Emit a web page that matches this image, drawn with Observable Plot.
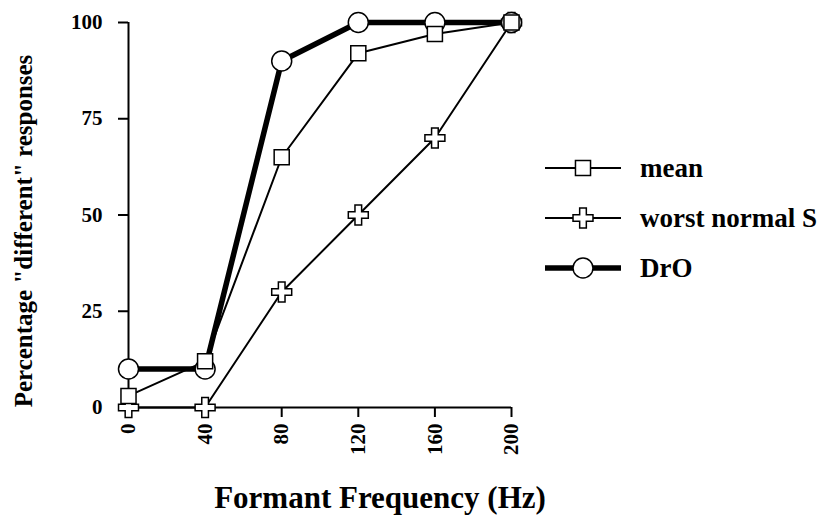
<!DOCTYPE html>
<html>
<head>
<meta charset="utf-8">
<script src="https://cdn.jsdelivr.net/npm/d3@7"></script>
<script src="https://cdn.jsdelivr.net/npm/@observablehq/plot@0.6"></script>
<style>
  html, body { margin: 0; padding: 0; background: #fff; }
  #wrap { position: relative; width: 821px; height: 515px; font-family: "Liberation Serif", "Times New Roman", serif; font-weight: bold; color: #000; }
  #legend { position: absolute; left: 545px; top: 143px; }
  .row { display: flex; align-items: center; height: 50px; }
  .row span { font-size: 27px; margin-left: 19px; line-height: 1; }
</style>
</head>
<body>
<div id="wrap"><div id="chart"></div><div id="legend"></div></div>
<script>
const freqs = [0, 40, 80, 120, 160, 200];
const meanVals = [3, 12, 65, 92, 97, 100];
const worstVals = [0, 0, 30, 50, 70, 100];
const droVals = [10, 10, 90, 100, 100, 100];
const seriesNames = ["mean", "worst normal S", "DrO"];
const xTicks = [0, 40, 80, 120, 160, 200];
const yTicks = [0, 25, 50, 75, 100];

const toRows = (vals) => freqs.map((f, i) => ({f, v: vals[i]}));
const mean = toRows(meanVals), worst = toRows(worstVals), dro = toRows(droVals);

const style = {
  dro: {symbol: "circle", r: 10, sw: 5.5},
  mean: {symbol: "square", r: 8.5, sw: 2},
  worst: {symbol: "cross", r: 8.4, sw: 2}
};

const font = "Liberation Serif, Times New Roman, serif";

const plot = Plot.plot({
  width: 821,
  height: 515,
  marginTop: 22,
  marginBottom: 108,
  marginLeft: 128,
  marginRight: 310,
  style: {fontFamily: font, fontWeight: "bold", fontSize: "21px", color: "#000", background: "#fff", overflow: "visible"},
  x: {domain: [0, 200]},
  y: {domain: [0, 100]},
  marks: [
    Plot.axisY({ticks: yTicks, tickSize: 10, tickPadding: 16, label: null, fontSize: 21, strokeWidth: 2}),
    Plot.axisX({ticks: xTicks, tickSize: 10, tickPadding: 6, tickRotate: -90, label: null, fontSize: 21, strokeWidth: 2}),
    Plot.ruleX([0], {y1: 0, y2: 100, strokeWidth: 2}),
    Plot.ruleY([0], {x1: 0, x2: 200, strokeWidth: 2}),
    Plot.line(dro, {x: "f", y: "v", stroke: "#000", strokeWidth: style.dro.sw}),
    Plot.line(mean, {x: "f", y: "v", stroke: "#000", strokeWidth: style.mean.sw}),
    Plot.line(worst, {x: "f", y: "v", stroke: "#000", strokeWidth: style.worst.sw}),
    Plot.dot(worst, {x: "f", y: "v", symbol: style.worst.symbol, r: style.worst.r, fill: "#fff", stroke: "#000", strokeWidth: 1.5}),
    Plot.dot(dro, {x: "f", y: "v", symbol: style.dro.symbol, r: style.dro.r, fill: "#fff", stroke: "#000", strokeWidth: 1.5}),
    Plot.dot(mean, {x: "f", y: "v", symbol: style.mean.symbol, r: style.mean.r, fill: "#fff", stroke: "#000", strokeWidth: 1.5}),
    Plot.text(["Formant Frequency (Hz)"], {frameAnchor: "bottom", dx: 60, dy: 100, fontSize: 31, fontWeight: "bold", fill: "#000"}),
    Plot.text(["Percentage \"different\" responses"], {frameAnchor: "left", textAnchor: "middle", dx: -105, dy: 16, rotate: -90, fontSize: 25, fontWeight: "bold", fill: "#000"})
  ]
});
document.getElementById("chart").appendChild(plot);

// Legend
const legend = d3.select("#legend");
const legendKeys = ["mean", "worst", "dro"];
const symMap = {circle: d3.symbolCircle, square: d3.symbolSquare, cross: d3.symbolCross};
legendKeys.forEach((k, i) => {
  const st = style[k];
  const row = legend.append("div").attr("class", "row");
  const svg = row.append("svg").attr("width", 76).attr("height", 30);
  svg.append("line").attr("x1", 0).attr("x2", 76).attr("y1", 15).attr("y2", 15)
    .attr("stroke", "#000").attr("stroke-width", st.sw);
  svg.append("path").attr("transform", "translate(38,15)")
    .attr("d", d3.symbol(symMap[st.symbol], Math.PI * st.r * st.r)())
    .attr("fill", "#fff").attr("stroke", "#000").attr("stroke-width", 1.5);
  row.append("span").text(seriesNames[i]);
});
</script>
</body>
</html>
